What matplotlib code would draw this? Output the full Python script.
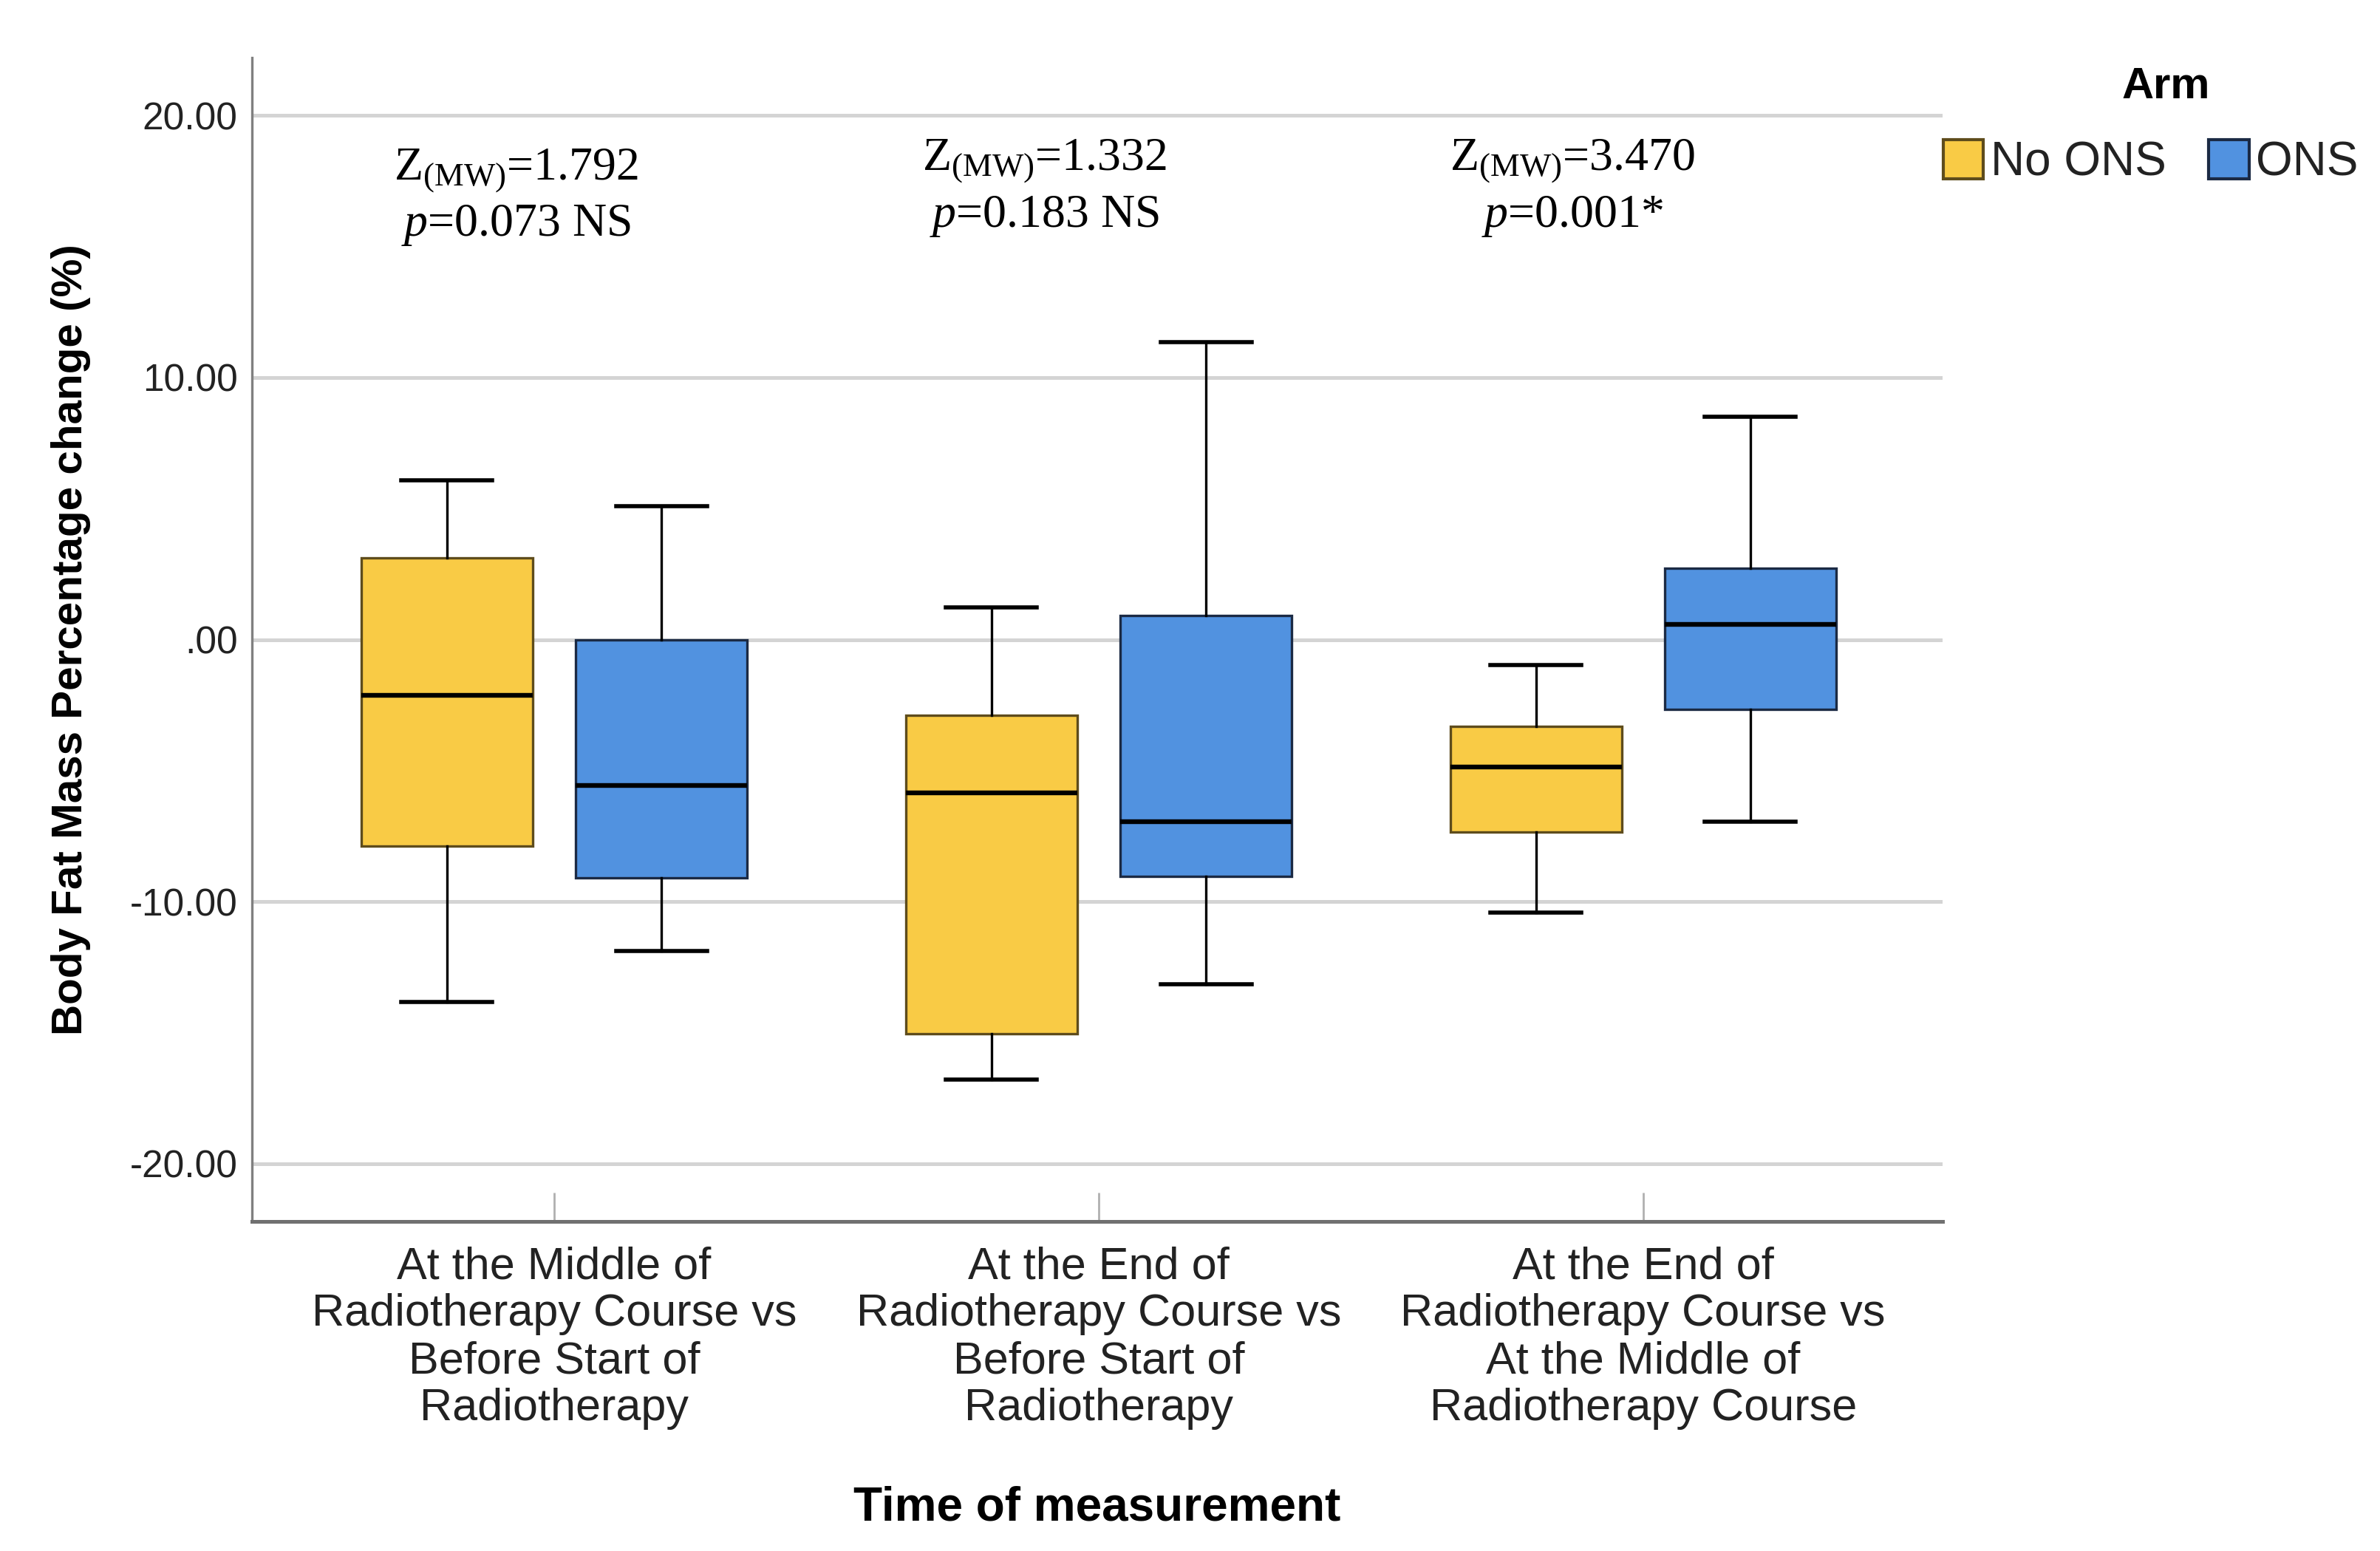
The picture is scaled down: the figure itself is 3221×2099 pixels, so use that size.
import matplotlib
matplotlib.use("Agg")
import matplotlib.pyplot as plt
from matplotlib.patches import Patch

plt.rcParams.update({
    "font.family": ["Liberation Sans", "DejaVu Sans"],
    "mathtext.fontset": "custom",
    "mathtext.rm": "Liberation Serif",
    "mathtext.it": "Liberation Serif:italic",
})

# ---------------- data ----------------

groups = [
    "At the Middle of\nRadiotherapy Course vs\nBefore Start of\nRadiotherapy",
    "At the End of\nRadiotherapy Course vs\nBefore Start of\nRadiotherapy",
    "At the End of\nRadiotherapy Course vs\nAt the Middle of\nRadiotherapy Course",
]
arms = ["No ONS", "ONS"]

no_ons_whislo = [-13.84, -16.79, -10.42]
no_ons_q1 = [-7.87, -15.05, -7.35]
no_ons_med = [-2.14, -5.85, -4.86]
no_ons_q3 = [3.13, -2.89, -3.30]
no_ons_whishi = [6.08, 1.22, -0.98]

ons_whislo = [-11.87, -13.14, -6.95]
ons_q1 = [-9.09, -9.03, -2.66]
ons_med = [-5.56, -6.95, 0.58]
ons_q3 = [0.0, 0.93, 2.72]
ons_whishi = [5.09, 11.35, 8.51]

z_values = ["1.792", "1.332", "3.470"]
p_values = ["0.073 NS", "0.183 NS", "0.001*"]

yticks = [20, 10, 0, -10, -20]
ytick_labels = ["20.00", "10.00", ".00", "-10.00", "-20.00"]

fill_colors = ["#F9CB45", "#5192E0"]
edge_colors = ["#5e4c1c", "#1b2a44"]

# ---------------- figure ----------------

fig = plt.figure(figsize=(16.105, 10.495), dpi=200)
ax = fig.add_axes([0.1059, 0.2125, 0.7103, 0.7503])

series = [
    (no_ons_whislo, no_ons_q1, no_ons_med, no_ons_q3, no_ons_whishi),
    (ons_whislo, ons_q1, ons_med, ons_q3, ons_whishi),
]
offsets = [-0.197, 0.197]

for arm_i, (lo, q1, med, q3, hi) in enumerate(series):
    stats = []
    for g in range(len(groups)):
        stats.append({
            "whislo": lo[g], "q1": q1[g], "med": med[g],
            "q3": q3[g], "whishi": hi[g], "fliers": [],
        })
    pos = [g + offsets[arm_i] for g in range(len(groups))]
    ax.bxp(
        stats,
        positions=pos,
        widths=0.315,
        patch_artist=True,
        showfliers=False,
        boxprops=dict(facecolor=fill_colors[arm_i], edgecolor=edge_colors[arm_i], linewidth=1.2),
        medianprops=dict(color="black", linewidth=2.3),
        whiskerprops=dict(color="black", linewidth=1.2),
        capprops=dict(color="black", linewidth=2.0),
        capwidths=0.167,
        zorder=3,
    )

ax.set_xlim(-0.555, 2.55)
ax.set_ylim(-22.2, 22.2)

ax.set_yticks(yticks)
ax.set_yticklabels(ytick_labels)
ax.yaxis.grid(True, color="#d4d4d4", linewidth=1.8, zorder=0)
ax.set_axisbelow(True)

ax.set_xticks(range(len(groups)))
ax.set_xticklabels(groups, linespacing=1.16)

ax.tick_params(axis="y", length=0, pad=7, labelsize=18.5, labelcolor="#222222")
ax.tick_params(axis="x", direction="in", length=14, width=1.0, color="#b0b0b0",
               pad=12, labelsize=22, labelcolor="#222222")

for side in ["top", "right"]:
    ax.spines[side].set_visible(False)
ax.spines["left"].set_color("#808080")
ax.spines["left"].set_linewidth(1.2)
ax.spines["bottom"].set_color("#707070")
ax.spines["bottom"].set_linewidth(1.8)

ax.set_ylabel("Body Fat Mass Percentage change (%)", fontsize=21, fontweight="bold", labelpad=19)
ax.set_xlabel("Time of measurement", fontsize=23, fontweight="bold", labelpad=27)

# Mann-Whitney annotations
ann_x = [-0.07, 0.90, 1.87]
ann_y = [17.9, 18.25, 18.25]
for g in range(len(groups)):
    ax.text(ann_x[g], ann_y[g], r"Z$_{\mathrm{(MW)}}$=" + z_values[g],
            ha="center", va="center", fontsize=23, color="black",
            fontfamily="Liberation Serif")
    ax.text(ann_x[g], ann_y[g] - 2.1, r"$p$=" + p_values[g],
            ha="center", va="center", fontsize=23, color="black",
            fontfamily="Liberation Serif")

handles = [Patch(facecolor=fill_colors[i], edgecolor=edge_colors[i], linewidth=1.5) for i in range(2)]
fig.legend(
    handles, arms,
    ncol=2,
    loc="center",
    bbox_to_anchor=(0.9037, 0.8953),
    frameon=False,
    fontsize=23,
    handlelength=0.85,
    handleheight=0.9,
    handletextpad=0.15,
    columnspacing=0.9,
    borderpad=0,
    labelcolor="#222222",
)
fig.text(0.910, 0.944, "Arm", ha="center", va="center", fontsize=21.5, fontweight="bold")

fig.savefig("out.png", dpi=200)
